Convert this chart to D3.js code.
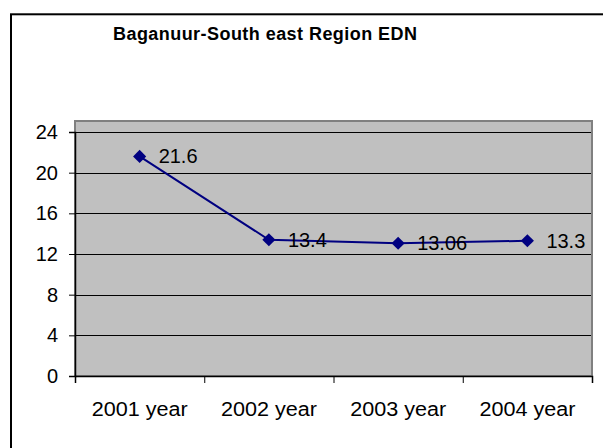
<!DOCTYPE html>
<html><head><meta charset="utf-8">
<script src="https://cdn.jsdelivr.net/npm/d3@7"></script>
<style>
html,body{margin:0;padding:0;background:#fff;}
svg{display:block;font-family:"Liberation Sans",Arial,sans-serif;}
</style></head>
<body>
<svg id="c" width="603" height="448"></svg>
<script>
const title = "Baganuur-South east Region EDN";
const categories = ["2001 year","2002 year","2003 year","2004 year"];
const values = [21.6, 13.4, 13.06, 13.3];
const valueLabels = ["21.6","13.4","13.06","13.3"];
const yTicks = [0,4,8,12,16,20,24];

const svg = d3.select("#c");
const L = 75, R = 592, T = 121, B = 376;

// outer chart border
svg.append("rect").attr("x",11).attr("y",14.3).attr("width",640).attr("height",480)
  .attr("fill","#fff").attr("stroke","#000").attr("stroke-width",2);

svg.append("text").attr("x",265).attr("y",39.5).attr("text-anchor","middle")
  .attr("font-size",18).attr("font-weight","bold").attr("fill","#000")
  .attr("textLength",304).attr("lengthAdjust","spacing").text(title);

const x = d3.scaleBand().domain(categories).range([L,R]);
const y = d3.scaleLinear().domain([0,24]).range([B,132]);

// plot area
svg.append("rect").attr("x",L).attr("y",T).attr("width",R-L).attr("height",B-T)
  .attr("fill","#C0C0C0").attr("stroke","#808080").attr("stroke-width",2);

// gridlines
svg.append("g").selectAll("line").data(yTicks.filter(d=>d>0)).join("line")
  .attr("x1",L).attr("x2",R-1).attr("y1",d=>Math.round(y(d))+0.5).attr("y2",d=>Math.round(y(d))+0.5)
  .attr("stroke","#000").attr("stroke-width",1);

// y axis
const yAxis = svg.append("g").attr("transform",`translate(${L},0)`)
  .call(d3.axisLeft(y).tickValues(yTicks).tickSize(6).tickPadding(11).tickFormat(d3.format("d")));
yAxis.select(".domain").attr("stroke","#000").attr("stroke-width",1.5);
yAxis.selectAll(".tick line").attr("stroke","#000");
yAxis.selectAll("text").attr("font-size",20).attr("fill","#000").attr("font-family","Liberation Sans, Arial, sans-serif");

// x axis ticks at category boundaries
const xb = d3.scaleLinear().domain([0,categories.length]).range([L,R]);
const xAxis = svg.append("g").attr("transform",`translate(0,${B})`)
  .call(d3.axisBottom(xb).ticks(categories.length).tickSize(7).tickFormat(""));
xAxis.select(".domain").attr("stroke","#000").attr("stroke-width",1.5);
xAxis.selectAll(".tick line").attr("stroke","#000");

// category labels
const xl = svg.append("g").attr("transform",`translate(0,${B})`)
  .call(d3.axisBottom(x).tickSize(0).tickPadding(26));
xl.select(".domain").remove();
xl.selectAll("text").attr("font-size",20).attr("fill","#000")
  .attr("font-family","Liberation Sans, Arial, sans-serif")
  .attr("textLength",96).attr("lengthAdjust","spacingAndGlyphs");

const pts = categories.map((c,i)=>({c, v:values[i], lab:valueLabels[i]}));

svg.append("path").datum(pts)
  .attr("d", d3.line().x(d=>x(d.c)+x.bandwidth()/2).y(d=>y(d.v)))
  .attr("fill","none").attr("stroke","#000080").attr("stroke-width",2);

svg.append("g").selectAll("path").data(pts).join("path")
  .attr("transform",d=>`translate(${x(d.c)+x.bandwidth()/2},${y(d.v)})`)
  .attr("d", d3.symbol(d3.symbolDiamond2, 110)())
  .attr("fill","#000080");

svg.append("g").selectAll("text").data(pts).join("text")
  .attr("x",d=>x(d.c)+x.bandwidth()/2+19)
  .attr("y",d=>y(d.v)+7)
  .attr("font-size",20).attr("fill","#000")
  .text(d=>d.lab);
</script>
</body></html>
